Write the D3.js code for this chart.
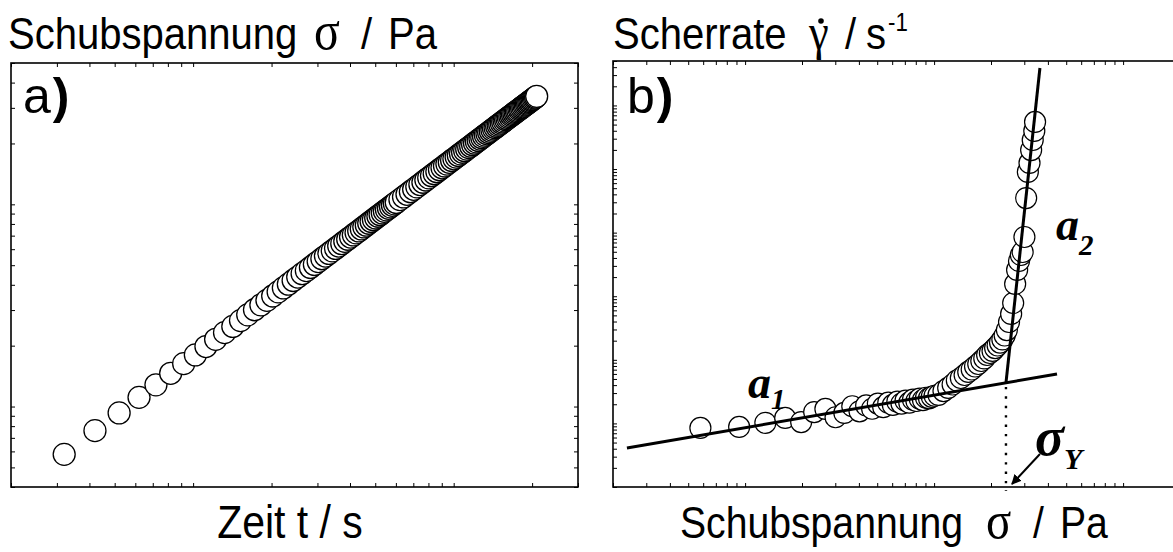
<!DOCTYPE html>
<html>
<head>
<meta charset="utf-8">
<script src="https://cdn.jsdelivr.net/npm/d3@7"></script>
<style>
  body { margin: 0; background: #fff; }
  svg { display: block; }
  text { font-family: "Liberation Sans", Arial, sans-serif; fill: #000; }
  .serif { font-family: "Liberation Serif", "Times New Roman", serif; }
  .tick line { stroke: #000; stroke-width: 1; }
</style>
</head>
<body>
<svg id="chart" width="1173" height="552"></svg>
<script>
// ---------------- data ----------------
// panel a: time (s) and shear stress (Pa)
var time_s = [3.2, 4.2, 5.2, 6.2, 7.2, 8.2, 9.2, 10.2, 11.2, 12.2, 13.2, 14.2, 15.2, 16.2, 17.2, 18.2, 19.2, 20.2,
    21.2, 22.2, 23.2, 24.2, 25.2, 26.2, 27.2, 28.2, 29.2, 30.2, 31.2, 32.2, 33.2, 34.2, 35.2, 36.2, 37.2, 38.2,
    39.2, 40.2, 41.2, 42.2, 43.2, 44.2, 45.2, 46.2, 47.2, 48.2, 49.2, 50.2, 51.2, 52.2, 53.2, 54.2, 55.2, 56.2,
    57.2, 58.2, 59.2, 60.2,
    62.2, 64.2, 66.2, 68.2, 70.2, 72.2, 74.2, 76.2, 78.2, 80.2, 82.2, 84.2, 86.2, 88.2, 90.2, 92.2, 94.2, 96.2,
    98.2, 100.2, 102.2, 104.2, 106.2, 108.2, 110.2, 112.2, 114.2, 116.2, 118.2, 120.2, 122.2, 124.2, 126.2, 128.2,
    130.2, 132.2, 134.2, 136.2, 138.2, 140.2, 142.2, 144.2, 146.2, 148.2, 150.2, 152.2, 154.2, 156.2, 158.2, 160.2,
    162.2, 164.2, 166.2, 168.2, 170.2, 172.2, 174.2, 176.2, 178.2, 180.2, 182.2, 184.2, 186.2, 188.2, 190.2, 192.2,
    194.2, 196.2, 198.2, 200.2, 202.2, 204.2, 206.2, 208.2];
var stress_a = [0.58, 0.76, 0.93, 1.11, 1.28, 1.46, 1.63, 1.80, 1.98, 2.15, 2.32, 2.49, 2.66, 2.84, 3.01, 3.18, 3.35, 3.52,
    3.69, 3.86, 4.03, 4.20, 4.37, 4.54, 4.70, 4.87, 5.04, 5.21, 5.38, 5.55, 5.72, 5.89, 6.05, 6.22, 6.39, 6.56,
    6.72, 6.89, 7.06, 7.23, 7.39, 7.56, 7.73, 7.89, 8.06, 8.23, 8.39, 8.56, 8.73, 8.89, 9.06, 9.23, 9.39, 9.56,
    9.72, 9.89, 10.06, 10.22,
    10.55, 10.88, 11.21, 11.54, 11.87, 12.20, 12.53, 12.86, 13.19, 13.52, 13.85, 14.18, 14.50, 14.83, 15.16, 15.49,
    15.81, 16.14, 16.47, 16.80, 17.12, 17.45, 17.77, 18.10, 18.43, 18.75, 19.08, 19.40, 19.73, 20.06, 20.38, 20.70,
    21.03, 21.35, 21.68, 22.00, 22.33, 22.65, 22.97, 23.30, 23.62, 23.94, 24.27, 24.59, 24.91, 25.24, 25.56, 25.88,
    26.20, 26.52, 26.84, 27.17, 27.49, 27.81, 28.13, 28.45, 28.77, 29.09, 29.41, 29.73, 30.05, 30.37, 30.69, 31.01,
    31.33, 31.65, 31.97, 32.29, 32.61, 32.93, 33.25, 33.57, 33.89, 34.21];

// panel b: shear stress (Pa) and shear rate (1/s)
var stress_b = [0.58, 0.93, 1.28, 1.63, 1.98, 2.32, 2.66, 3.01, 3.35, 3.69, 4.03, 4.37, 4.70, 5.04, 5.38, 5.72,
    6.05, 6.39, 6.72, 7.06, 7.39, 7.73, 8.06, 8.39, 8.73, 9.06, 9.39, 9.72, 10.06,
    10.55, 11.21, 11.87, 12.53, 13.19, 13.85, 14.50, 15.16, 15.81, 16.47, 17.12, 17.77, 18.43, 19.08, 19.73, 20.38,
    21.03, 21.68, 22.33, 22.97, 23.62, 24.27, 24.91, 25.56, 26.20, 26.84, 27.49, 28.13, 28.77, 29.41, 30.05, 30.69,
    31.33, 31.97, 32.61, 33.25, 33.89, 34.21];
var shear_rate = [8.5e-5, 8.8e-5, 1.02e-4, 1.22e-4, 1.05e-4, 1.51e-4, 1.69e-4, 1.25e-4, 1.46e-4, 1.86e-4, 1.55e-4,
    1.92e-4, 1.70e-4, 2.05e-4, 1.80e-4, 2.12e-4, 1.95e-4, 2.20e-4, 2.05e-4, 2.28e-4, 2.12e-4, 2.36e-4, 2.25e-4,
    2.45e-4, 2.33e-4, 2.53e-4, 2.48e-4, 2.62e-4, 2.72e-4,
    2.80e-4, 3.23e-4, 3.61e-4, 4.09e-4, 4.73e-4, 5.18e-4, 5.77e-4, 6.44e-4, 7.04e-4, 7.85e-4, 8.60e-4, 9.58e-4,
    1.05e-3, 1.19e-3, 1.28e-3, 1.38e-3, 1.53e-3, 1.68e-3, 1.87e-3, 2.09e-3, 2.41e-3, 2.94e-3, 3.93e-3, 5.26e-3,
    7.83e-3, 1.56e-2, 2.59e-2, 3.58e-2, 4.45e-2, 4.96e-2, 8.54e-2, 0.35, 0.90, 1.25, 1.99, 2.86, 3.97, 5.50];

// fitted straight lines (log-log) and the yield point where they cross
var yield_point = [24.0, 4.33e-4];
var fit_a1 = [[0.237, 4.1e-5], [44.7, 5.98e-4]];
var fit_a2 = [yield_point, [36.3, 38.8]];

// ---------------- chart ----------------
var svg = d3.select("#chart");
const SQUEEZE = 0.89; // the lettering is a little narrower than Arial

function draw_frame(xscale, yscale, sides) {
    var x0 = xscale.range()[0], x1 = xscale.range()[1];
    var y0 = yscale.range()[1], y1 = yscale.range()[0];

    // inward ticks on every side
    var g = svg.append("g");
    g.append("g").attr("transform", "translate(0," + y1 + ")")
        .call(d3.axisBottom(xscale).tickSizeInner(-4).tickSizeOuter(0).tickFormat(""));
    g.append("g").attr("transform", "translate(0," + y0 + ")")
        .call(d3.axisTop(xscale).tickSizeInner(-4).tickSizeOuter(0).tickFormat(""));
    g.append("g").attr("transform", "translate(" + x0 + ",0)")
        .call(d3.axisLeft(yscale).tickSizeInner(-4).tickSizeOuter(0).tickFormat(""));
    if (sides.right) {
        g.append("g").attr("transform", "translate(" + x1 + ",0)")
            .call(d3.axisRight(yscale).tickSizeInner(-4).tickSizeOuter(0).tickFormat(""));
    }
    g.selectAll(".domain").remove();

    svg.append("rect")
        .attr("x", x0).attr("y", y0)
        .attr("width", x1 - x0).attr("height", y1 - y0)
        .attr("fill", "none").attr("stroke", "#000").attr("stroke-width", 1.6);
}

// ---------- panel a ----------
var xa = d3.scaleLog().domain([2, 300]).range([11, 578]);
var ya = d3.scaleLog().domain([0.4, 50]).range([487, 63]);
draw_frame(xa, ya, {right: true});

svg.append("g").selectAll("circle")
    .data(d3.range(time_s.length))
    .join("circle")
    .attr("cx", i => xa(time_s[i]))
    .attr("cy", i => ya(stress_a[i]))
    .attr("r", 11)
    .attr("fill", "#fff")
    .attr("stroke", "#000")
    .attr("stroke-width", 1.3);

// ---------- panel b ----------
var xb = d3.scaleLog().domain([0.2, 200]).range([613, 1180]);
var yb = d3.scaleLog().domain([1e-5, 50]).range([487, 61]);
draw_frame(xb, yb, {right: false});

var line_b = d3.line().x(d => xb(d[0])).y(d => yb(d[1]));

svg.append("g").selectAll("circle")
    .data(d3.range(stress_b.length))
    .join("circle")
    .attr("cx", i => xb(stress_b[i]))
    .attr("cy", i => yb(shear_rate[i]))
    .attr("r", 10.5)
    .attr("fill", "#fff")
    .attr("stroke", "#000")
    .attr("stroke-width", 1.2);

svg.append("path").datum(fit_a1).attr("d", line_b)
    .attr("fill", "none").attr("stroke", "#000").attr("stroke-width", 3);
svg.append("path").datum(fit_a2).attr("d", line_b)
    .attr("fill", "none").attr("stroke", "#000").attr("stroke-width", 3);

// dotted drop line from the yield point to the stress axis
var xy = xb(yield_point[0]);
svg.append("line")
    .attr("x1", xy).attr("x2", xy)
    .attr("y1", yb(yield_point[1]) + 4).attr("y2", yb.range()[0] + 4)
    .attr("stroke", "#000").attr("stroke-width", 2.4)
    .attr("stroke-dasharray", "2.4,7");

// arrow pointing at sigma_Y
svg.append("defs").append("marker")
    .attr("id", "head").attr("viewBox", "0 0 10 10")
    .attr("refX", 9).attr("refY", 5)
    .attr("markerWidth", 5).attr("markerHeight", 5)
    .attr("orient", "auto")
    .append("path").attr("d", "M0,0 L10,5 L0,10 z").attr("fill", "#000");
svg.append("line")
    .attr("x1", xy + 34).attr("y1", 454)
    .attr("x2", xy + 6).attr("y2", 484)
    .attr("stroke", "#000").attr("stroke-width", 2)
    .attr("marker-end", "url(#head)");

// ---------- labels ----------
// text placed in a horizontally squeezed group; xs are in screen pixels from the start
function squeezed(x, y, size) {
    return svg.append("g")
        .attr("transform", "translate(" + x + "," + y + ") scale(" + SQUEEZE + ",1)")
        .append("text").style("font-size", size + "px");
}

function stress_label(x0, y, size) {
    var t = squeezed(x0, y, size);
    t.append("tspan").text("Schubspannung");
    t.append("tspan").attr("x", 306 / SQUEEZE).attr("class", "serif").style("font-size", (size * 1.2) + "px").text("σ");
    t.append("tspan").attr("x", 353 / SQUEEZE).text("/");
    t.append("tspan").attr("x", 380 / SQUEEZE).text("Pa");
}

stress_label(8, 49, 45);
stress_label(680, 538, 44);

squeezed(290, 538, 46).attr("text-anchor", "middle").text("Zeit t / s");

var tb = squeezed(613, 49, 45);
tb.append("tspan").text("Scherrate");
tb.append("tspan").attr("x", 196 / SQUEEZE).attr("class", "serif").style("font-size", "50px").text("γ");
tb.append("tspan").attr("x", 232 / SQUEEZE).text("/");
tb.append("tspan").attr("x", 253 / SQUEEZE).text("s");
tb.append("tspan").attr("x", 275 / SQUEEZE).attr("y", -18).style("font-size", "25px").text("-1");
svg.append("circle").attr("cx", 821).attr("cy", 21).attr("r", 2.8).attr("fill", "#000");

// panel letters
[["a", 23], ["b", 627]].forEach(function (p) {
    var t = svg.append("text").attr("x", p[1]).attr("y", 113).style("font-size", "50px");
    t.append("tspan").text(p[0]);
    t.append("tspan").attr("dx", 2).style("font-weight", "bold").text(")");
});

// slope and yield labels
function italic_label(x, y, main, sub, size, subsize, dy) {
    var t = svg.append("text").attr("class", "serif")
        .attr("x", x).attr("y", y)
        .style("font-style", "italic").style("font-weight", "bold")
        .style("font-size", size + "px");
    t.append("tspan").text(main);
    t.append("tspan").attr("dy", dy).style("font-size", subsize + "px").text(sub);
}
italic_label(748, 398, "a", "1", 46, 29, 11);
italic_label(1056, 240, "a", "2", 46, 29, 15);
italic_label(1035, 455, "σ", "Y", 54, 30, 14);
</script>
</body>
</html>
